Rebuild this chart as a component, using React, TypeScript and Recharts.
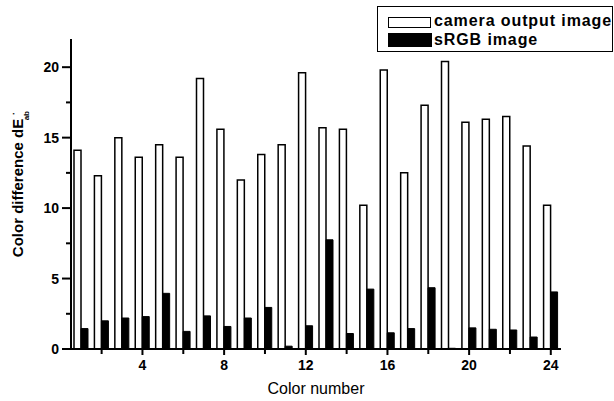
import React from 'react';
import { BarChart, Bar, XAxis, YAxis, Legend } from 'recharts';

// color patch numbers 1..24
const colorNumbers = [
  1, 2, 3, 4, 5, 6, 7, 8, 9, 10, 11, 12,
  13, 14, 15, 16, 17, 18, 19, 20, 21, 22, 23, 24,
];

const cameraOutput = [
  14.1, 12.3, 15.0, 13.6, 14.5, 13.6, 19.2, 15.6, 12.0, 13.8, 14.5, 19.6,
  15.7, 15.6, 10.2, 19.8, 12.5, 17.3, 20.4, 16.1, 16.3, 16.5, 14.4, 10.2,
];

const srgbImage = [
  1.45, 2.0, 2.2, 2.3, 3.95, 1.25, 2.35, 1.6, 2.2, 2.95, 0.2, 1.65,
  7.75, 1.1, 4.25, 1.15, 1.45, 4.35, 0.05, 1.5, 1.4, 1.35, 0.85, 4.05,
];

const yTicks = [0, 2.5, 5, 7.5, 10, 12.5, 15, 17.5, 20];
const yLabelTicks = [0, 5, 10, 15, 20];
const xLabelTicks = [4, 8, 12, 16, 20, 24];

const data = colorNumbers.map((n, i) => ({
  n,
  camera: cameraOutput[i],
  srgb: srgbImage[i],
}));

const FONT = '"Liberation Sans", Arial, sans-serif';

const YTick = (props: any) => {
  const { x, y, payload } = props;
  const major = yLabelTicks.includes(payload.value);
  // text x sits tickSize + tickMargin left of the axis line
  const axisX = x + 10;
  return (
    <g>
      <line x1={axisX - (major ? 9 : 5)} x2={axisX} y1={y} y2={y} stroke="#000" strokeWidth={2} />
      {major && (
        <text x={axisX - 12} y={y} dy="0.36em" textAnchor="end" fontFamily={FONT} fontWeight="bold" fontSize={14} fill="#000">
          {payload.value}
        </text>
      )}
    </g>
  );
};

const XTick = (props: any) => {
  const { x, y, payload } = props;
  const v = Number(payload.value);
  if (v % 2 !== 0) return null;
  const axisY = y - 10;
  const major = xLabelTicks.includes(v);
  return (
    <g>
      <line x1={x} x2={x} y1={axisY} y2={axisY + (major ? 6 : 5)} stroke="#000" strokeWidth={2} />
      {major && (
        <text x={x} y={axisY + 21} textAnchor="middle" fontFamily={FONT} fontWeight="bold" fontSize={14} fill="#000">
          {v}
        </text>
      )}
    </g>
  );
};

// rotated title, dE with a small superscript mark and "ab" subscript
const YLabel = () => (
  <g transform="rotate(-90, 23, 188)">
    <text x={23} y={188} textAnchor="middle" fontFamily={FONT} fontWeight="bold" fontSize={15} fill="#000">
      Color difference dE
    </text>
    <text x={96} y={182} fontFamily={FONT} fontWeight="bold" fontSize={9} fill="#000">·</text>
    <text x={100} y={194} textAnchor="end" fontFamily={FONT} fontWeight="bold" fontSize={8} fill="#000">ab</text>
  </g>
);

const XLabel = () => (
  <text x={316} y={394} textAnchor="middle" fontFamily={FONT} fontSize={16} fill="#000">
    Color number
  </text>
);

const LegendBox = () => (
  <div
    style={{
      position: 'relative',
      width: 234,
      height: 44,
      border: '1.5px solid #000',
      background: '#fff',
      fontFamily: FONT,
      fontWeight: 'bold',
      fontSize: 16,
      color: '#000',
    }}
  >
    <div style={{ position: 'absolute', left: 10, top: 10, width: 41, height: 9, border: '1.5px solid #000', background: '#fff' }} />
    <div style={{ position: 'absolute', left: 56, top: 5, lineHeight: '18px', letterSpacing: 0.9, whiteSpace: 'nowrap' }}>
      camera output image
    </div>
    <div style={{ position: 'absolute', left: 10, top: 26, width: 44, height: 14, background: '#000' }} />
    <div style={{ position: 'absolute', left: 56, top: 24, lineHeight: '18px', letterSpacing: 0.9, whiteSpace: 'nowrap' }}>
      sRGB image
    </div>
  </div>
);

export default function App() {
  return (
    <div style={{ position: 'absolute', left: 0, top: 0, background: '#fff' }}>
      <BarChart
        width={614}
        height={401}
        data={data}
        margin={{ top: 39, right: 53, bottom: 22, left: 31 }}
        barGap={0}
        barSize={7}
      >
        <XAxis
          dataKey="n"
          type="category"
          interval={0}
          tick={<XTick />}
          tickLine={false}
          tickSize={6}
          tickMargin={4}
          height={30}
          axisLine={{ stroke: '#000', strokeWidth: 2 }}
          label={<XLabel />}
        />
        <YAxis
          domain={[0, 22]}
          ticks={yTicks}
          interval={0}
          tick={<YTick />}
          tickLine={false}
          tickSize={8}
          tickMargin={2}
          width={40}
          axisLine={{ stroke: '#000', strokeWidth: 2 }}
          label={<YLabel />}
        />
        <Legend
          layout="horizontal"
          verticalAlign="middle"
          align="center"
          content={<LegendBox />}
          wrapperStyle={{ position: 'absolute', top: 6, left: 377, width: 237 }}
        />
        <Bar dataKey="camera" name="camera output image" fill="#fff" stroke="#000" strokeWidth={1.5} isAnimationActive={false} />
        <Bar dataKey="srgb" name="sRGB image" fill="#000" stroke="#000" strokeWidth={1} isAnimationActive={false} />
      </BarChart>
    </div>
  );
}
